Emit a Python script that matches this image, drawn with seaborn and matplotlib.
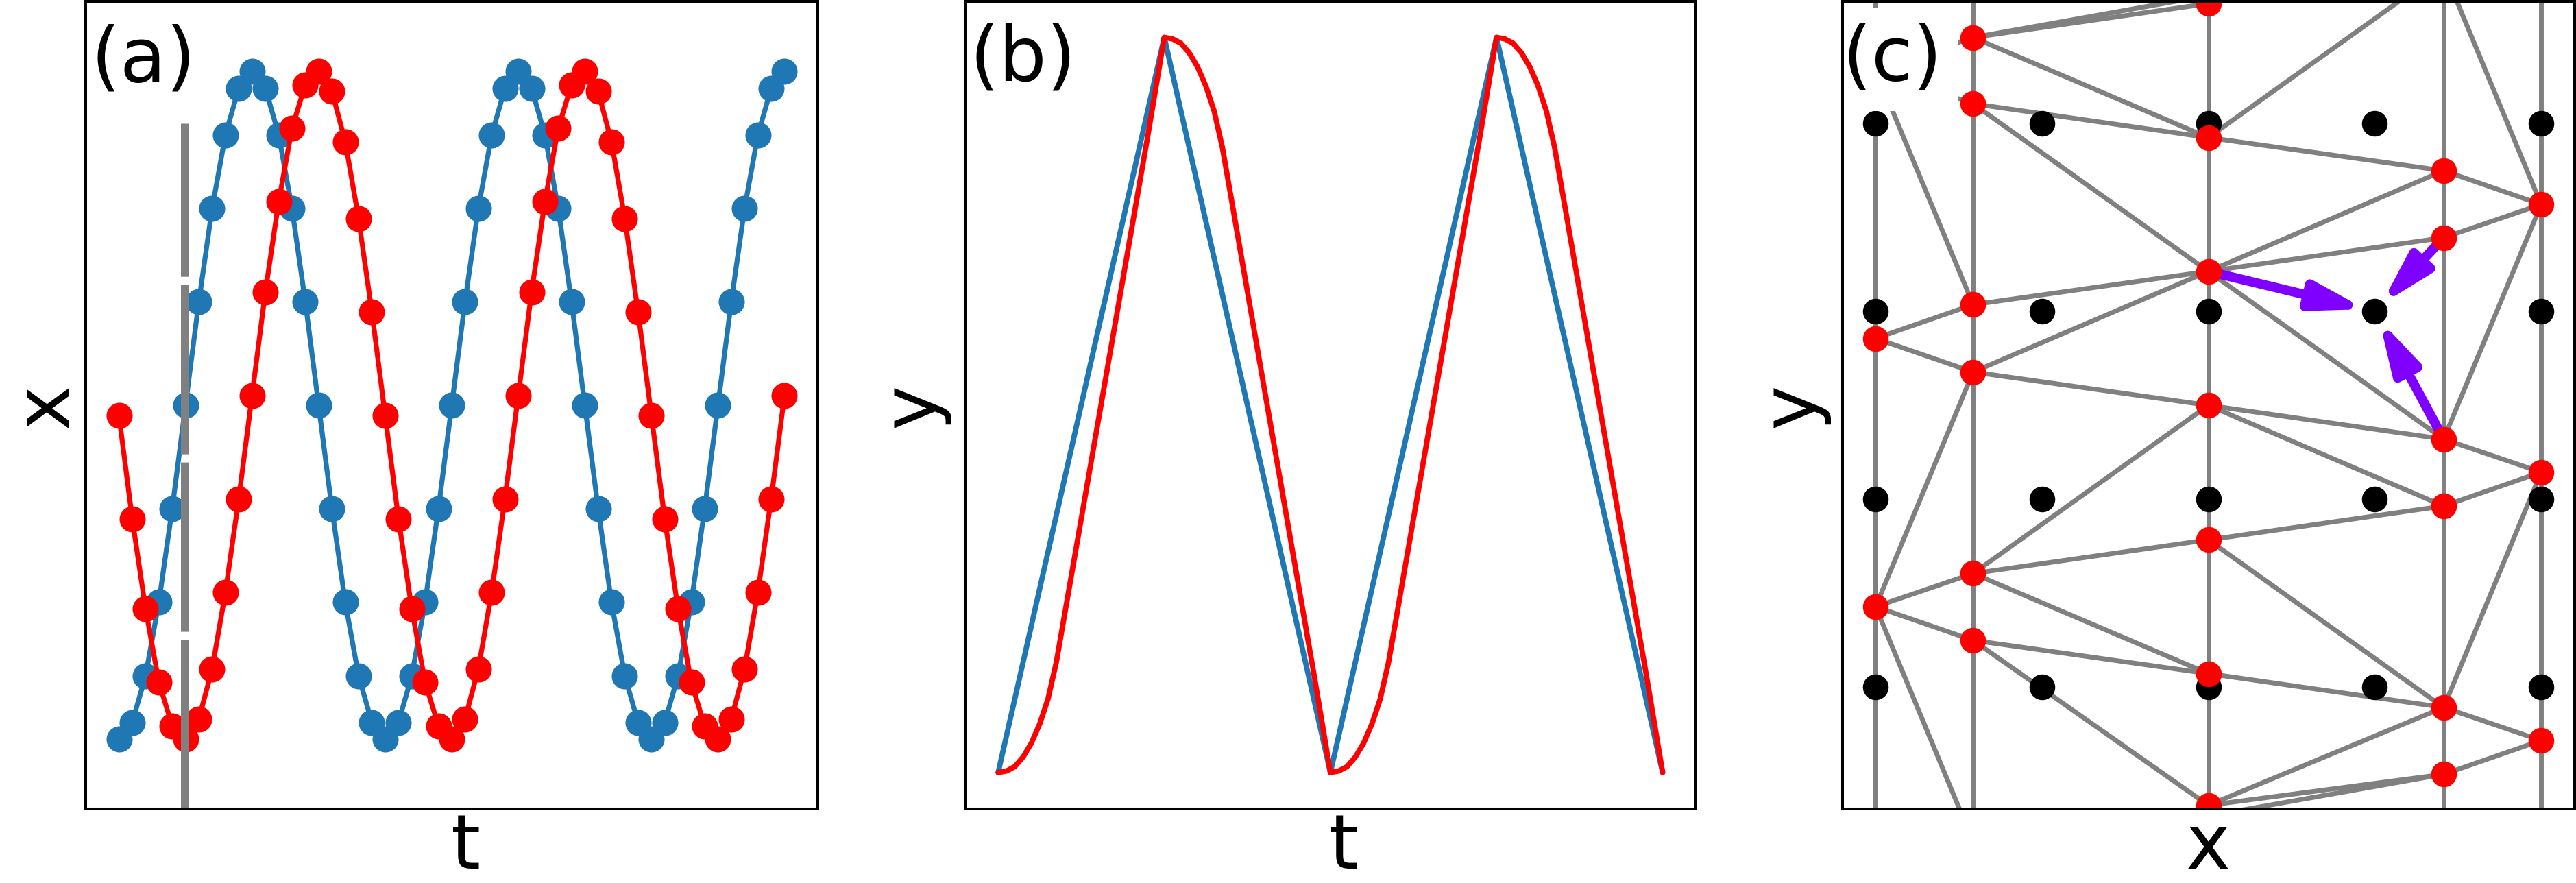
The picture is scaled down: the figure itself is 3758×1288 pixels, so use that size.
import matplotlib
matplotlib.use("Agg")
import matplotlib.pyplot as plt
import seaborn as sns

sns.set_theme(style="white")
plt.rcParams["font.family"] = ["DejaVu Sans"]
plt.rcParams["text.color"] = "black"
plt.rcParams["axes.labelcolor"] = "black"

BLUE = "#1f77b4"
RED = "#ff0000"
GRAY = "#808080"
PURPLE = "#7f00ff"
FS = 39.6

# ---------------- panel (a): sampled x(t) ----------------
t_a = list(range(51))
x_blue = [-1.00, -0.95, -0.81, -0.59, -0.31, 0.00, 0.31, 0.59, 0.81, 0.95,
          1.00, 0.95, 0.81, 0.59, 0.31, 0.00, -0.31, -0.59, -0.81, -0.95,
          -1.00, -0.95, -0.81, -0.59, -0.31, 0.00, 0.31, 0.59, 0.81, 0.95,
          1.00, 0.95, 0.81, 0.59, 0.31, 0.00, -0.31, -0.59, -0.81, -0.95,
          -1.00, -0.95, -0.81, -0.59, -0.31, 0.00, 0.31, 0.59, 0.81, 0.95,
          1.00]
x_red = [-0.03, -0.34, -0.61, -0.83, -0.96, -1.00, -0.94, -0.79, -0.56, -0.28,
         0.03, 0.34, 0.61, 0.83, 0.96, 1.00, 0.94, 0.79, 0.56, 0.28,
         -0.03, -0.34, -0.61, -0.83, -0.96, -1.00, -0.94, -0.79, -0.56, -0.28,
         0.03, 0.34, 0.61, 0.83, 0.96, 1.00, 0.94, 0.79, 0.56, 0.28,
         -0.03, -0.34, -0.61, -0.83, -0.96, -1.00, -0.94, -0.79, -0.56, -0.28,
         0.03]
t_marker = 4.9
marker_span = [-1.21, 0.845]

# ---------------- panel (b): y(t) ----------------
t_b_blue = [0, 1, 2, 3, 4]
y_b_blue = [0, 1, 0, 1, 0]
t_b_red = [0.00, 0.05, 0.10, 0.15, 0.20, 0.25, 0.30, 0.35, 0.40, 0.50, 0.60, 0.70, 0.80, 0.90, 1.00,
           1.05, 1.10, 1.15, 1.20, 1.25, 1.30, 1.35, 1.40, 1.50, 1.60, 1.70, 1.80, 1.90, 2.00,
           2.05, 2.10, 2.15, 2.20, 2.25, 2.30, 2.35, 2.40, 2.50, 2.60, 2.70, 2.80, 2.90, 3.00,
           3.05, 3.10, 3.15, 3.20, 3.25, 3.30, 3.35, 3.40, 3.50, 3.60, 3.70, 3.80, 3.90, 4.00]
y_b_red = [0.000, 0.002, 0.008, 0.021, 0.040, 0.066, 0.100, 0.150, 0.215, 0.345, 0.475, 0.605, 0.735, 0.865, 1.000,
           0.998, 0.992, 0.979, 0.960, 0.934, 0.900, 0.850, 0.785, 0.655, 0.525, 0.395, 0.265, 0.135, 0.000,
           0.002, 0.008, 0.021, 0.040, 0.066, 0.100, 0.150, 0.215, 0.345, 0.475, 0.605, 0.735, 0.865, 1.000,
           0.998, 0.992, 0.979, 0.960, 0.934, 0.900, 0.850, 0.785, 0.655, 0.525, 0.395, 0.265, 0.135, 0.000]

# ---------------- panel (c): mesh ----------------
grid_x = [0, 1, 2, 3, 4]
grid_y = [0, 1, 2, 3]
col_x = {"A": 0.0, "B": 0.586, "C": 2.0, "D": 3.414, "E": 4.0}
col_a = [3.284, 1.856, 0.428, -1.000]
col_b = [3.458, 3.105, 2.036, 1.677, 0.605, 0.249, -0.823]
col_c = [3.638, 2.925, 2.213, 1.500, 0.784, 0.072, -0.629]
col_d = [3.820, 2.749, 2.392, 1.320, 0.964, -0.108, -0.464]
col_e = [3.997, 2.569, 1.144, -0.284]
edges = [("B0", "C0"), ("B0", "E0"), ("B0", "C1"), ("B1", "C1"), ("B1", "C2"),
         ("C1", "D0"), ("C1", "D1"), ("D0", "E1"), ("D1", "E1"), ("D2", "E1"),
         ("C2", "D1"), ("C2", "D2"), ("C2", "B2"), ("C2", "B3"), ("C2", "D3"),
         ("E1", "D3"), ("A1", "B2"), ("A1", "B3"), ("A0", "B2"), ("B3", "A2"),
         ("B3", "C3"), ("C3", "D3"), ("C3", "D4"), ("C3", "B4"), ("D3", "E2"),
         ("D4", "E2"), ("C4", "D4"), ("C4", "B4"), ("C4", "D5"), ("E2", "D5"),
         ("A2", "B4"), ("A2", "B5"), ("B4", "C5"), ("B5", "C5"), ("B5", "C6"),
         ("C5", "D5"), ("D5", "E3"), ("D6", "E3"), ("C6", "D5"), ("C6", "D6"),
         ("D6", "A3"), ("A2", "B6"), ("A0", "B0"), ("A0", "B1")]
arrow_from = ["C2", "D2", "D3"]
arrow_to = (3, 2)

columns = {"A": col_a, "B": col_b, "C": col_c, "D": col_d, "E": col_e}


def node(name):
    return col_x[name[0]], columns[name[0]][int(name[1:])]


fig = plt.figure(figsize=(18.79, 6.44), dpi=200)
bottom, height = 0.08354, 0.91491
ax_a = fig.add_axes([0.03326, bottom, 0.28420, height])
ax_b = fig.add_axes([0.37459, bottom, 0.28374, height])
ax_c = fig.add_axes([0.71519, bottom, 0.28420, height])

# (a)
sns.lineplot(x=t_a, y=x_blue, ax=ax_a, color=BLUE, lw=2.6, marker="o", markersize=13.7,
             markeredgewidth=0, sort=False, estimator=None, zorder=2.2)
sns.lineplot(x=t_a, y=x_red, ax=ax_a, color=RED, lw=2.6, marker="o", markersize=13.7,
             markeredgewidth=0, sort=False, estimator=None, zorder=2.2)
ax_a.plot([t_marker, t_marker], marker_span, color=GRAY, lw=3.96,
          linestyle=(0, (22.45, 1.09)), solid_capstyle="butt", dash_capstyle="butt", zorder=2.3)
ax_a.set_xlim(-2.5, 52.5)
ax_a.set_ylim(-1.21, 1.21)

# (b)
sns.lineplot(x=t_b_blue, y=y_b_blue, ax=ax_b, color=BLUE, lw=2.8, sort=False, estimator=None)
sns.lineplot(x=t_b_red, y=y_b_red, ax=ax_b, color=RED, lw=2.8, sort=False, estimator=None)
ax_b.set_xlim(-0.2, 4.2)
ax_b.set_ylim(-0.05, 1.049)

# (c)
for c in col_x:
    ax_c.axvline(col_x[c], color=GRAY, lw=2.5, zorder=1.5)
for p, q in edges:
    (x0, y0), (x1, y1) = node(p), node(q)
    ax_c.plot([x0, x1], [y0, y1], color=GRAY, lw=2.5, solid_capstyle="butt", zorder=1.5)
for name in arrow_from:
    ax_c.annotate("", xy=arrow_to, xytext=node(name),
                  arrowprops=dict(arrowstyle="-|>,head_length=22,head_width=6", mutation_scale=1,
                                  lw=5.0, color=PURPLE, shrinkA=0, shrinkB=5),
                  zorder=1.8)
gx = [x for y in grid_y for x in grid_x]
gy = [y for y in grid_y for x in grid_x]
sns.scatterplot(x=gx, y=gy, ax=ax_c, color="black", s=13.5 ** 2, linewidth=0, zorder=2.0)
rx, ry = [], []
for c, vals in columns.items():
    rx += [col_x[c]] * len(vals)
    ry += vals
sns.scatterplot(x=rx, y=ry, ax=ax_c, color=RED, s=13.5 ** 2, linewidth=0, zorder=2.2)
ax_c.set_xlim(-0.2, 4.2)
ax_c.set_ylim(-0.65, 3.65)

labels = [(ax_a, "(a)", 0.007, 0.9725, "t", 0.5197, "x", 1.4),
          (ax_b, "(b)", 0.0067, 0.9729, "t", 0.5186, "y", 7.9),
          (ax_c, "(c)", 0.0, 0.9738, "x", 0.5, "y", 6.8)]
for ax, tag, tx, ty, xl, xlx, yl, ypad in labels:
    ax.set_xticks([])
    ax.set_yticks([])
    for s in ax.spines.values():
        s.set_color("black")
        s.set_linewidth(1.45)
    ax.text(tx, ty, tag, transform=ax.transAxes, ha="left", va="top", fontsize=FS, zorder=2.4,
            bbox=dict(boxstyle="square,pad=0.2", facecolor="white", edgecolor="none"))
    ax.set_xlabel(xl, fontsize=FS)
    ax.xaxis.set_label_coords(xlx, -0.002)
    ax.set_ylabel(yl, fontsize=FS, labelpad=ypad)

fig.savefig("out.png", dpi=200)
